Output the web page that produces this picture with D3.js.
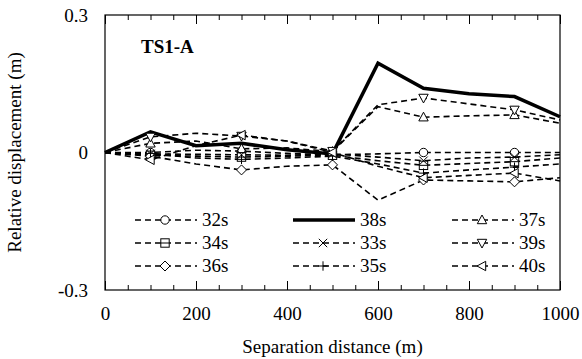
<!DOCTYPE html>
<html><head><meta charset="utf-8">
<script src="https://cdn.jsdelivr.net/npm/d3@7"></script>
<style>body{margin:0;background:#fff}</style>
</head><body>
<svg id="c" width="582" height="359"></svg>
<script>
// ---- data ----
const distances = [0,100,200,300,400,500,600,700,800,900,1000];
const s32 = [0, 0.000, 0.005, 0.003, -0.002, -0.005, -0.003, 0.000, 0.000, 0.000, 0.000];
const s38 = [0, 0.045, 0.015, 0.020, 0.006, -0.003, 0.195, 0.140, 0.128, 0.122, 0.078];
const s37 = [0, 0.020, 0.025, 0.008, 0.010, 0.002, 0.100, 0.077, 0.080, 0.082, 0.064];
const s34 = [0, -0.006, -0.008, -0.010, -0.008, -0.006, -0.018, -0.028, -0.024, -0.020, -0.012];
const s33 = [0, -0.003, -0.004, -0.005, -0.006, -0.003, -0.010, -0.018, -0.012, -0.010, -0.005];
const s39 = [0, 0.034, 0.042, 0.036, 0.025, 0.003, 0.104, 0.119, 0.106, 0.093, 0.071];
const s36 = [0, -0.008, -0.025, -0.038, -0.030, -0.027, -0.104, -0.060, -0.062, -0.064, -0.055];
const s35 = [0, -0.002, -0.012, -0.015, -0.012, -0.008, -0.025, -0.045, -0.038, -0.032, -0.025];
const s40 = [0, -0.016, 0.015, 0.038, 0.025, 0.000, -0.030, -0.055, -0.050, -0.045, -0.062];
const seriesNames = ["32s","38s","37s","34s","33s","39s","36s","35s","40s"];
const seriesValues = [s32, s38, s37, s34, s33, s39, s36, s35, s40];
const markerTypes = ["circle","none","triUp","boxMinus","cross","triDown","diamond","plus","triLeft"];
const markerDistances = [100,300,500,700,900];
const xTicks = [0,200,400,600,800,1000];
const xMinorTicks = d3.range(0,1001,50);
const yTicks = [-0.3,0,0.3];
const yTickLabels = ["-0.3","0","0.3"];
const panelLabel = "TS1-A";
const xTitle = "Separation distance (m)";
const yTitle = "Relative displacement (m)";

// ---- layout ----
const FONT = "Liberation Serif";
const L=105, R=560, T=15, B=290;
const svg = d3.select("#c");
const x = d3.scaleLinear().domain([0,1000]).range([L,R]);
const y = d3.scaleLinear().domain([-0.3,0.3]).range([B,T]);

function styleText(sel, size){ sel.attr("font-size",size).attr("fill","#000").attr("font-family",FONT); }

const gx = svg.append("g").attr("transform",`translate(0,${B})`)
  .call(d3.axisBottom(x).tickValues(xTicks).tickFormat(d3.format("d")).tickSize(-9).tickPadding(17));
gx.attr("font-family",FONT);
gx.select(".domain").remove();
styleText(gx.selectAll("text"),19);
gx.selectAll("line").attr("stroke","#000");
svg.append("g").attr("transform",`translate(0,${B})`)
  .call(d3.axisBottom(x).tickValues(xMinorTicks.filter(v=>v%200)).tickFormat("").tickSize(-5))
  .call(g=>{g.select(".domain").remove(); g.selectAll("line").attr("stroke","#000");});
svg.append("g").attr("transform",`translate(0,${T})`)
  .call(d3.axisTop(x).tickValues(xTicks).tickFormat("").tickSize(-9))
  .call(g=>{g.select(".domain").remove(); g.selectAll("line").attr("stroke","#000");});
svg.append("g").attr("transform",`translate(0,${T})`)
  .call(d3.axisTop(x).tickValues(xMinorTicks.filter(v=>v%200)).tickFormat("").tickSize(-5))
  .call(g=>{g.select(".domain").remove(); g.selectAll("line").attr("stroke","#000");});

const gy = svg.append("g").attr("transform",`translate(${L},0)`)
  .call(d3.axisLeft(y).tickValues(yTicks).tickFormat((d,i)=>yTickLabels[i]).tickSize(0).tickPadding(17));
gy.attr("font-family",FONT);
gy.select(".domain").remove();
styleText(gy.selectAll("text"),19);

svg.append("rect").attr("x",L).attr("y",T).attr("width",R-L).attr("height",B-T)
  .attr("fill","none").attr("stroke","#000").attr("stroke-width",1.2);

styleText(svg.append("text").attr("x",(L+R)/2).attr("y",353).attr("text-anchor","middle").text(xTitle),19);
styleText(svg.append("text").attr("transform",`translate(21,${(T+B)/2}) rotate(-90)`).attr("text-anchor","middle").text(yTitle),19);
styleText(svg.append("text").attr("x",141).attr("y",53).attr("font-weight","bold").text(panelLabel),19);

function drawMarker(g, type, cx, cy){
  const s=4.2;
  const st = {fill:"#fff", stroke:"#000", "stroke-width":1};
  let el;
  if(type==="circle") el=g.append("circle").attr("cx",cx).attr("cy",cy).attr("r",s);
  else if(type==="boxMinus"){
    el=g.append("rect").attr("x",cx-s).attr("y",cy-s).attr("width",2*s).attr("height",2*s);
    g.append("line").attr("x1",cx-s).attr("x2",cx+s).attr("y1",cy).attr("y2",cy).attr("stroke","#000");
  }
  else if(type==="triUp") el=g.append("path").attr("d",`M${cx},${cy-s-0.8}L${cx+s+0.5},${cy+s-0.5}L${cx-s-0.5},${cy+s-0.5}Z`);
  else if(type==="triDown") el=g.append("path").attr("d",`M${cx},${cy+s+0.8}L${cx+s+0.5},${cy-s+0.5}L${cx-s-0.5},${cy-s+0.5}Z`);
  else if(type==="triLeft") el=g.append("path").attr("d",`M${cx-s-0.8},${cy}L${cx+s-0.5},${cy-s-0.5}L${cx+s-0.5},${cy+s+0.5}Z`);
  else if(type==="diamond") el=g.append("path").attr("d",`M${cx},${cy-s-0.8}L${cx+s+0.8},${cy}L${cx},${cy+s+0.8}L${cx-s-0.8},${cy}Z`);
  else if(type==="cross") el=g.append("path").attr("d",`M${cx-s},${cy-s}L${cx+s},${cy+s}M${cx-s},${cy+s}L${cx+s},${cy-s}`);
  else if(type==="plus") el=g.append("path").attr("d",`M${cx-s-0.5},${cy}L${cx+s+0.5},${cy}M${cx},${cy-s-0.5}L${cx},${cy+s+0.5}`);
  if(el){ for(const k in st) el.attr(k, st[k]); }
}

const line = d3.line().x((d,i)=>x(distances[i])).y(d=>y(d));
const plot = svg.append("g");
seriesValues.forEach((vals,k)=>{
  if(markerTypes[k]==="none") return;
  plot.append("path").attr("d",line(vals)).attr("fill","none").attr("stroke","#000")
    .attr("stroke-width",1.6).attr("stroke-dasharray","6,4");
});
seriesValues.forEach((vals,k)=>{
  if(markerTypes[k]!=="none") return;
  plot.append("path").attr("d",line(vals)).attr("fill","none").attr("stroke","#000")
    .attr("stroke-width",3.5).attr("stroke-linejoin","miter");
});
const mg = svg.append("g");
seriesValues.forEach((vals,k)=>{
  if(markerTypes[k]==="none") return;
  distances.forEach((dv,i)=>{
    if(markerDistances.includes(dv)) drawMarker(mg, markerTypes[k], x(dv), y(vals[i]));
  });
});

const colX=[135,293,452], rowY=[220,243,266];
const lg = svg.append("g");
seriesNames.forEach((name,k)=>{
  const cx0=colX[k%3], cy=rowY[Math.floor(k/3)];
  if(markerTypes[k]==="none"){
    lg.append("line").attr("x1",cx0).attr("x2",cx0+62).attr("y1",cy).attr("y2",cy)
      .attr("stroke","#000").attr("stroke-width",3.5);
  } else {
    lg.append("line").attr("x1",cx0).attr("x2",cx0+62).attr("y1",cy).attr("y2",cy)
      .attr("stroke","#000").attr("stroke-width",1.6).attr("stroke-dasharray","6,4");
    drawMarker(lg, markerTypes[k], cx0+30, cy);
  }
  styleText(lg.append("text").attr("x",cx0+67).attr("y",cy+6).text(name),19);
});
</script>
</body></html>
